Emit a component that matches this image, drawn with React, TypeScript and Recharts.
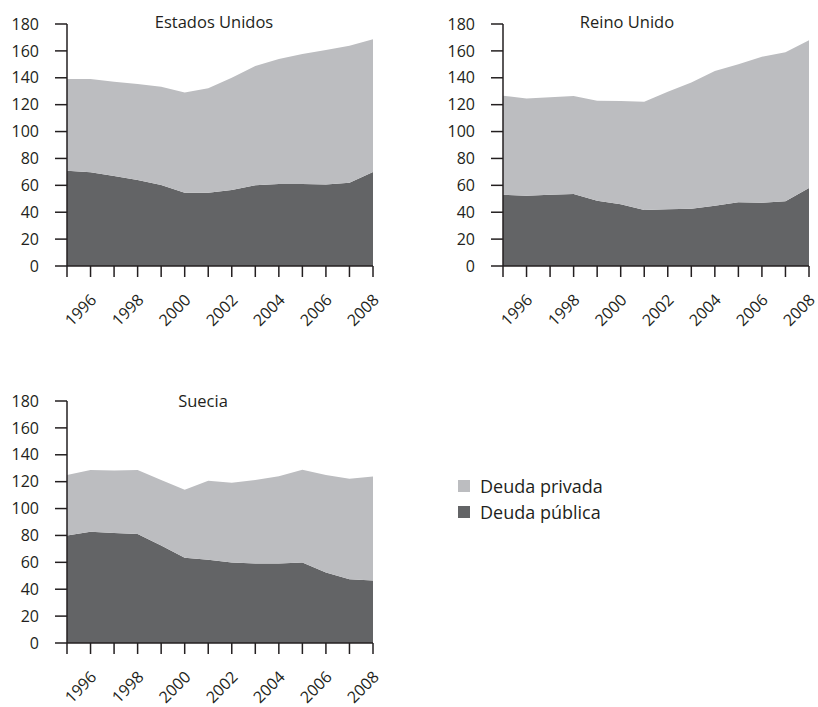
import React from 'react';
import { AreaChart, Area, XAxis, YAxis } from 'recharts';

const years = [1995, 1996, 1997, 1998, 1999, 2000, 2001, 2002, 2003, 2004, 2005, 2006, 2007, 2008];
const yTicks = [0, 20, 40, 60, 80, 100, 120, 140, 160, 180];

// Deuda pública / privada (% del PIB)
const usPublic = [70.9, 69.7, 67, 64, 60.3, 54.5, 54.5, 56.5, 60, 61, 61, 60.7, 62, 70];
const usPrivate = [68.2, 69.3, 70, 71.4, 73.1, 74.5, 77.7, 83.5, 88.8, 93, 96.7, 100, 101.9, 98.6];

const ukPublic = [53, 52.3, 53, 53.6, 48.6, 46, 41.7, 42.2, 42.6, 44.9, 47.4, 47.1, 48.1, 58];
const ukPrivate = [73.7, 72.2, 72.5, 72.9, 74.4, 76.7, 80.5, 87.5, 93.8, 100.1, 102.6, 108.6, 110.9, 110];

const sePublic = [79.9, 82.8, 81.8, 81.1, 72.5, 63.5, 62, 59.8, 59.1, 59.1, 59.8, 52.4, 47.5, 46.5];
const sePrivate = [45, 45.8, 46.5, 47.5, 48.7, 50.5, 58.7, 59.4, 62.1, 65, 69, 72.5, 74.7, 77.4];

const LIGHT = '#bcbdc0';
const DARK = '#636466';
const INK = '#231f20';
const FONT = '"Open Sans", sans-serif';

function buildRows(pub: number[], priv: number[]) {
  return years.map((year, i) => ({ year, publica: pub[i], privada: priv[i] }));
}

function YearTick(props: any) {
  const { x, y, payload } = props;
  const yr = payload.value as number;
  if (yr % 2 !== 0) return null;
  const ax = x + 7;
  const ay = y + 22;
  return (
    <text
      x={ax}
      y={ay}
      textAnchor="end"
      transform={`rotate(-45, ${ax}, ${ay})`}
      fill={INK}
      fontSize={16}
      fontFamily={FONT}
    >
      {yr}
    </text>
  );
}

function DebtPanel({
  pub,
  priv,
  left,
  top,
}: {
  pub: number[];
  priv: number[];
  left: number;
  top: number;
}) {
  const rows = buildRows(pub, priv);
  return (
    <div style={{ position: 'absolute', left, top }}>
      <AreaChart width={390} height={340} data={rows} margin={{ top: 24, right: 17, bottom: 14, left: 0 }}>
        <XAxis
          dataKey="year"
          type="number"
          domain={[1995, 2008]}
          ticks={years}
          interval={0}
          height={60}
          tickSize={11}
          tick={<YearTick />}
          stroke={INK}
          strokeWidth={1.5}
        />
        <YAxis
          domain={[0, 180]}
          ticks={yTicks}
          interval={0}
          width={67}
          tickSize={12}
          tickMargin={16}
          stroke={INK}
          strokeWidth={1.5}
          tick={{ fill: INK, fontSize: 16, fontFamily: FONT }}
        />
        <Area
          type="linear"
          dataKey="publica"
          stackId="deuda"
          stroke="none"
          fill={DARK}
          fillOpacity={1}
          isAnimationActive={false}
        />
        <Area
          type="linear"
          dataKey="privada"
          stackId="deuda"
          stroke="none"
          fill={LIGHT}
          fillOpacity={1}
          isAnimationActive={false}
        />
      </AreaChart>
    </div>
  );
}

const titleStyle: React.CSSProperties = {
  position: 'absolute',
  fontFamily: FONT,
  fontSize: 16.5,
  color: INK,
  whiteSpace: 'nowrap',
  transform: 'translateX(-50%)',
  lineHeight: '20px',
};

export default function App() {
  return (
    <div
      style={{
        position: 'absolute',
        left: 0,
        top: 0,
        width: 818,
        height: 707,
        background: '#fff',
        fontFamily: FONT,
      }}
    >
      <DebtPanel pub={usPublic} priv={usPrivate} left={0} top={0} />
      <DebtPanel pub={ukPublic} priv={ukPrivate} left={436} top={0} />
      <DebtPanel pub={sePublic} priv={sePrivate} left={0} top={377} />

      <div style={{ ...titleStyle, left: 214, top: 12 }}>Estados Unidos</div>
      <div style={{ ...titleStyle, left: 627, top: 12 }}>Reino Unido</div>
      <div style={{ ...titleStyle, left: 203, top: 391 }}>Suecia</div>

      <div style={{ position: 'absolute', left: 458, top: 473, color: INK, fontSize: 18 }}>
        {[
          { label: 'Deuda privada', color: LIGHT },
          { label: 'Deuda pública', color: DARK },
        ].map((item) => (
          <div key={item.label} style={{ display: 'flex', alignItems: 'center', height: 26 }}>
            <span style={{ width: 12, height: 12, background: item.color, marginRight: 10 }} />
            <span>{item.label}</span>
          </div>
        ))}
      </div>
    </div>
  );
}
